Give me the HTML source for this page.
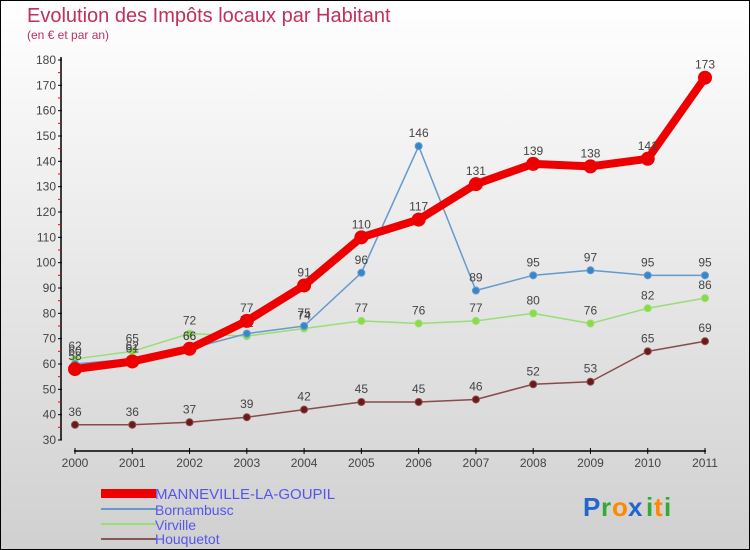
<!DOCTYPE html>
<html><head><meta charset="utf-8"><style>
html,body{margin:0;padding:0}
body{width:750px;height:550px;overflow:hidden;font-family:"Liberation Sans",sans-serif}
#wrap{position:relative;width:748px;height:548px;border:1px solid #000;background:linear-gradient(#ffffff,#d0d0d0)}
</style></head><body>
<div id="wrap">
<svg id="chart" width="748" height="548" style="position:absolute;left:0;top:0">
<text x="26" y="21" font-size="20" fill="#c0305a">Evolution des Impôts locaux par Habitant</text>
<text x="26" y="38" font-size="12" fill="#c0305a">(en € et par an)</text>
<g id="axes"></g>
<g id="series"></g>
<g id="legend" font-size="14" fill="#5555ee">
<rect x="100" y="488" width="55" height="9" fill="#ee0000"/>
<text x="154" y="498" font-size="15" fill="#5555ee">MANNEVILLE-LA-GOUPIL</text>
<rect x="100" y="507" width="55" height="2" fill="#6699cc"/>
<text x="154" y="514" fill="#5555ee">Bornambusc</text>
<rect x="100" y="522" width="55" height="2" fill="#99dd77"/>
<text x="154" y="529" fill="#5555ee">Virville</text>
<rect x="100" y="537" width="55" height="2" fill="#885555"/>
<text x="154" y="543" fill="#5555ee">Houquetot</text>
</g>
<g font-size="26" font-weight="bold">
<text x="582" y="515" fill="#2266cc">P</text><text x="600" y="515" fill="#33aa33">r</text><text x="611" y="515" fill="#ff8800">o</text><text x="627" y="515" fill="#2266cc">x</text><text x="645" y="515" fill="#33aa33">i</text><text x="653" y="515" fill="#ff8800">t</text><text x="663" y="515" fill="#33aa33">i</text>
</g>
</svg>
</div>
<script>
const years=["2000","2001","2002","2003","2004","2005","2006","2007","2008","2009","2010","2011"];
const yTicks=[30,40,50,60,70,80,90,100,110,120,130,140,150,160,170,180];
const manneville=[58,61,66,77,91,110,117,131,139,138,141,173];
const bornambusc=[60,62,66,72,75,96,146,89,95,97,95,95];
const virville=[62,65,72,71,74,77,76,77,80,76,82,86];
const houquetot=[36,36,37,39,42,45,45,46,52,53,65,69];
const NS="http://www.w3.org/2000/svg";
function X(i){return 74+i*(704-74)/11;}
function Y(v){return 439-(v-30)*(380/150);}
function mk(tag,attrs,parent){const e=document.createElementNS(NS,tag);for(const k in attrs)e.setAttribute(k,attrs[k]);parent.appendChild(e);return e;}
const ax=document.getElementById('axes');
let l=mk('line',{x1:60,y1:Y(180)-3,x2:60,y2:Y(30),stroke:'#000','stroke-width':1.5},ax);


l=mk('line',{x1:X(0)-1,y1:450,x2:X(11)+1,y2:450,stroke:'#000','stroke-width':1.5},ax);


yTicks.forEach((v,i)=>{
 mk('line',{x1:57,y1:Y(v),x2:61,y2:Y(v),stroke:'#000'},ax);
 if(i<yTicks.length-1) mk('line',{x1:57,y1:Y(v+5),x2:60,y2:Y(v+5),stroke:'#e00'},ax);
 const t=mk('text',{x:55,y:Y(v)+4,'text-anchor':'end','font-size':12,fill:'#444'},ax);
 t.textContent=v;
 
 
});
years.forEach((y,i)=>{
 mk('line',{x1:X(i),y1:447,x2:X(i),y2:453,stroke:'#000'},ax);
 const t=mk('text',{x:X(i),y:466,'text-anchor':'middle','font-size':12,fill:'#444'},ax);
 t.textContent=y;
 
 
});
const sg=document.getElementById('series');
function draw(data,name,color,dot,w,r){
 const g=mk('g',{},sg);
 
 
 const p=mk('polyline',{points:data.map((v,i)=>X(i)+','+Y(v)).join(' '),fill:'none',stroke:color,'stroke-width':w,'stroke-linejoin':'round'},g);
 
 
 data.forEach((v,i)=>{
  const c=mk('circle',{cx:X(i),cy:Y(v),r:r,fill:dot,stroke:color,'stroke-width':1},g);
  
  
  const t=mk('text',{x:X(i),y:Y(v)-9,'text-anchor':'middle','font-size':12,fill:'#444'},g);
  t.textContent=v;
  
  
 });
}
draw(houquetot,'houquetot','#8a4a4a','#6a1a1a',1.5,3.5);
draw(virville,'virville','#99dd77','#88dd44',1.5,3.5);
draw(bornambusc,'bornambusc','#6699cc','#3388cc',1.5,3.5);
draw(manneville,'manneville','#ee0000','#ee0000',8,6.5);
</script>
</body></html>
